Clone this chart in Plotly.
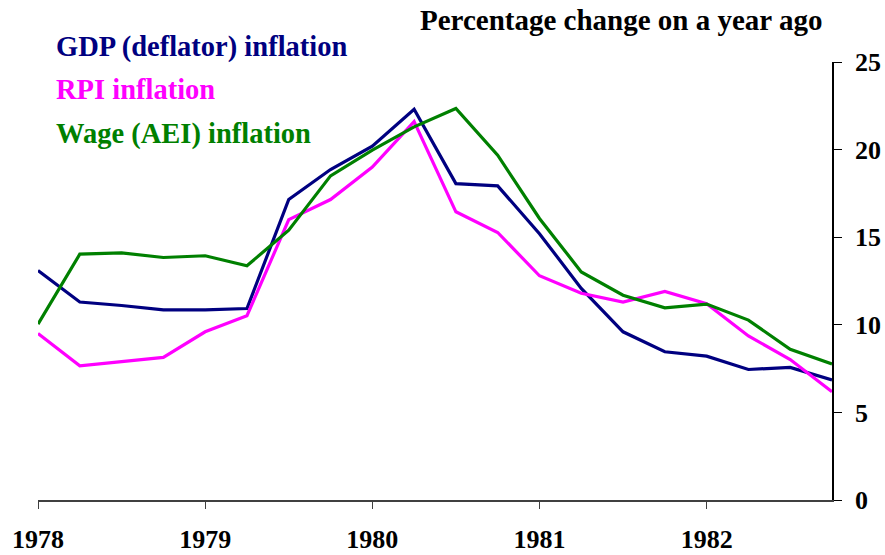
import plotly.graph_objects as go

quarters = ["1978Q1", "1978Q2", "1978Q3", "1978Q4",
            "1979Q1", "1979Q2", "1979Q3", "1979Q4",
            "1980Q1", "1980Q2", "1980Q3", "1980Q4",
            "1981Q1", "1981Q2", "1981Q3", "1981Q4",
            "1982Q1", "1982Q2", "1982Q3", "1982Q4"]

gdp_deflator = [13.1, 11.3, 11.1, 10.85, 10.85, 10.93, 17.15, 18.86, 20.2, 22.3,
                18.06, 17.93, 15.2, 12.08, 9.6, 8.46, 8.21, 7.45, 7.57, 6.85]
rpi = [9.5, 7.66, 7.9, 8.14, 9.6, 10.52, 16.0, 17.15, 19.0, 21.6,
       16.45, 15.27, 12.8, 11.8, 11.3, 11.9, 11.2, 9.36, 8.02, 6.18]
wage_aei = [10.04, 14.03, 14.1, 13.84, 13.94, 13.37, 15.4, 18.5, 19.97, 21.3,
            22.35, 19.68, 16.07, 13.02, 11.69, 10.97, 11.18, 10.27, 8.6, 7.76]

year_ticks = [1978, 1979, 1980, 1981, 1982]
y_ticks = [0, 5, 10, 15, 20, 25]

series = [
    ("GDP (deflator) inflation", gdp_deflator, "#000080"),
    ("RPI inflation", rpi, "#FF00FF"),
    ("Wage (AEI) inflation", wage_aei, "#008000"),
]


def q_to_num(q):
    return int(q[:4]) + (int(q[5]) - 1) / 4.0


x = [q_to_num(q) for q in quarters]

FONT = "Liberation Serif"
PL, PR, PT, PB = 37.7, 831.7, 61.7, 500.0

fig = go.Figure()
for name, vals, color in series:
    fig.add_trace(go.Scatter(x=x, y=vals, mode="lines", name=name,
                             line=dict(color=color, width=3.2)))

legend_y = [47, 89, 134]
annotations = []
for (name, vals, color), ypix in zip(series, legend_y):
    annotations.append(dict(
        text="<b>%s</b>" % name, xref="paper", yref="paper",
        x=(54 - PL) / (PR - PL), y=(PB - ypix) / (PB - PT),
        xanchor="left", yanchor="middle", showarrow=False,
        font=dict(family=FONT, size=28.5, color=color)))
annotations.append(dict(
    text="<b>Percentage change on a year ago</b>", xref="paper", yref="paper",
    x=(621 - PL) / (PR - PL), y=(PB - 20) / (PB - PT),
    xanchor="center", yanchor="middle", showarrow=False,
    font=dict(family=FONT, size=29, color="black")))

fig.update_layout(
    width=885, height=555,
    margin=dict(l=PL, r=885 - PR, t=PT, b=555 - PB, autoexpand=False),
    paper_bgcolor="white", plot_bgcolor="white",
    showlegend=False,
    annotations=annotations,
    font=dict(family=FONT, color="black"),
)
fig.update_xaxes(
    range=[1978, 1982.75], tickvals=year_ticks,
    ticktext=["<b>%d</b>" % t for t in year_ticks], automargin=False,
    showgrid=False, zeroline=False, showline=True, linecolor="#404040", linewidth=1.5,
    ticks="outside", ticklen=7, tickcolor="#404040", tickwidth=1.2,
    tickfont=dict(family=FONT, size=26, color="black"), ticklabelstandoff=8,
)
fig.update_yaxes(
    range=[0, 25], tickvals=y_ticks, ticktext=["<b>%d</b>" % t for t in y_ticks],
    automargin=False,
    side="right", showgrid=False, zeroline=False, showline=True,
    linecolor="black", linewidth=1.5,
    ticks="outside", ticklen=8, tickcolor="black", tickwidth=1.2,
    tickfont=dict(family=FONT, size=26, color="black"), ticklabelstandoff=8,
)

fig.write_html("out.html", config={"displayModeBar": False},
               post_script="document.body.style.margin='0';document.body.style.overflow='hidden';")
